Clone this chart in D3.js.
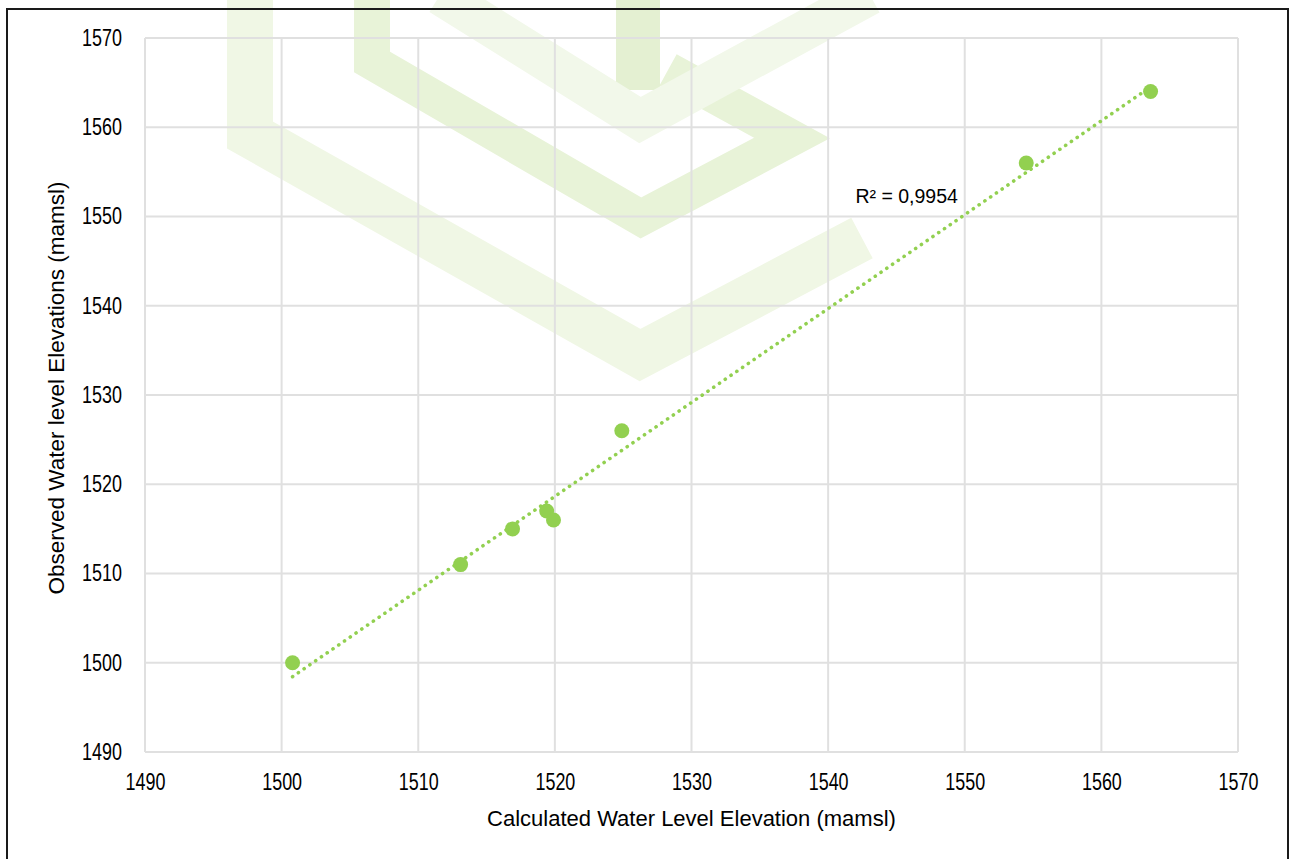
<!DOCTYPE html>
<html>
<head>
  <meta charset="utf-8">
  <style>
    body { margin: 0; background: #fff; }
    svg { display: block; font-family: "Liberation Sans", Arial, sans-serif; }
    .grid line { stroke: #e0e0e0; stroke-width: 2; }
  </style>
</head>
<body>
  <div id="chart"></div>
  <script src="https://d3js.org/d3.v7.min.js"></script>
  <script>
    // data
    var calculated = [1500.8, 1513.1, 1516.9, 1519.4, 1519.9, 1524.9, 1554.5, 1563.6]
    var observed   = [1500, 1511, 1515, 1517, 1516, 1526, 1556, 1564]
    var ticks = [1490, 1500, 1510, 1520, 1530, 1540, 1550, 1560, 1570]
    var r2Label = "R² = 0,9954"

    var W = 1293, H = 859
    var margin = {top: 38, right: 55, bottom: 107, left: 145}
    var width = W - margin.left - margin.right,
        height = H - margin.top - margin.bottom
    var narrow = 0.78  // tick labels are a condensed face

    var svg = d3.select("#chart").append("svg")
        .attr("width", W)
        .attr("height", H)

    // faint watermark behind the chart
    var wm = svg.append("g").attr("fill", "none").attr("stroke-linejoin", "miter")
    var bands = [
      {pts: [[250, -5], [250, 135], [640, 355], [862, 238]], w: 46, c: "#f0f7e5"},
      {pts: [[372, -5], [372, 62], [641, 218], [792, 138], [668, 70]], w: 36, c: "#e8f3d8"},
      {pts: [[638, -5], [638, 90]], w: 44, c: "#e4f0d2"},
      {pts: [[440, -5], [640, 120], [870, -5]], w: 40, c: "#f2f8ea"}
    ]
    bands.forEach(function (b) {
      wm.append("path")
          .attr("d", d3.line()(b.pts))
          .attr("stroke", b.c)
          .attr("stroke-width", b.w)
    })

    var g = svg.append("g")
        .attr("transform", "translate(" + margin.left + "," + margin.top + ")")

    var x = d3.scaleLinear().domain([1490, 1570]).range([0, width])
    var y = d3.scaleLinear().domain([1490, 1570]).range([height, 0])

    // gridlines
    g.append("g").attr("class", "grid")
        .selectAll("line").data(ticks).enter().append("line")
        .attr("x1", 0).attr("x2", width)
        .attr("y1", d => y(d)).attr("y2", d => y(d))
    g.append("g").attr("class", "grid")
        .selectAll("line").data(ticks).enter().append("line")
        .attr("y1", 0).attr("y2", height)
        .attr("x1", d => x(d)).attr("x2", d => x(d))

    // axes (labels only)
    var xAxis = g.append("g")
        .attr("transform", "translate(0," + height + ")")
        .call(d3.axisBottom(x).tickValues(ticks).tickFormat(d3.format("d")).tickSize(0).tickPadding(22))
    var yAxis = g.append("g")
        .call(d3.axisLeft(y).tickValues(ticks).tickFormat(d3.format("d")).tickSize(0).tickPadding(23))
    ;[xAxis, yAxis].forEach(function (a) {
      a.select(".domain").remove()
      a.selectAll("text")
          .attr("font-size", 23)
          .attr("fill", "#000")
          .attr("font-family", "Liberation Sans, Arial, sans-serif")
          .attr("transform", "scale(" + narrow + ",1)")
    })
    yAxis.selectAll("text").attr("x", -23 / narrow)

    // linear trendline
    var pts = calculated.map((c, i) => [c, observed[i]])
    var mx = d3.mean(calculated), my = d3.mean(observed)
    var sxy = d3.sum(pts, p => (p[0] - mx) * (p[1] - my))
    var sxx = d3.sum(pts, p => (p[0] - mx) * (p[0] - mx))
    var slope = sxy / sxx, icpt = my - slope * mx
    var x0 = d3.min(calculated), x1 = d3.max(calculated)
    g.append("line")
        .attr("x1", x(x0)).attr("y1", y(slope * x0 + icpt))
        .attr("x2", x(x1)).attr("y2", y(slope * x1 + icpt))
        .attr("stroke", "#92d050")
        .attr("stroke-width", 3.6)
        .attr("stroke-linecap", "round")
        .attr("stroke-dasharray", "0.1 6.9")

    // points
    g.selectAll("circle.pt").data(pts).enter().append("circle")
        .attr("class", "pt")
        .attr("cx", d => x(d[0]))
        .attr("cy", d => y(d[1]))
        .attr("r", 7.5)
        .attr("fill", "#92d050")

    g.append("text")
        .attr("x", x(1542.0))
        .attr("y", y(1551.5))
        .attr("font-size", 19.5)
        .text(r2Label)

    // axis titles
    svg.append("text")
        .attr("x", margin.left + width / 2)
        .attr("y", 826)
        .attr("text-anchor", "middle")
        .attr("font-size", 22)
        .text("Calculated Water Level Elevation (mamsl)")
    svg.append("text")
        .attr("transform", "translate(64," + (margin.top + height / 2 - 7) + ") rotate(-90)")
        .attr("text-anchor", "middle")
        .attr("font-size", 22.5)
        .text("Observed Water level Elevations (mamsl)")

    // outer frame
    svg.append("rect")
        .attr("x", 7).attr("y", 9)
        .attr("width", 1281).attr("height", 880)
        .attr("fill", "none")
        .attr("stroke", "#1a1a1a")
        .attr("stroke-width", 2)
  </script>
</body>
</html>
